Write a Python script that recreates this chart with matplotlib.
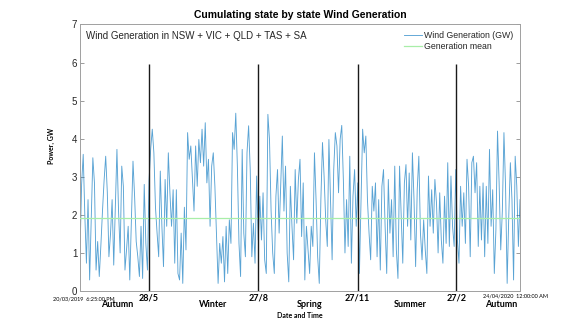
import matplotlib
matplotlib.use('Agg')
import matplotlib.pyplot as plt
import matplotlib.transforms as mtransforms
import numpy as np
import pandas as pd

# Wind generation (GW) left to right in six chunks
wind_autumn = [1.0, 2.8, 3.59, 2.0, 0.73, 2.4, 0.29, 1.9, 3.5, 2.84,
               0.55, 1.3, 0.38, 1.2, 2.1, 2.9, 3.54, 2.6, 0.9, 1.5,
               2.4, 0.68, 2.2, 3.72, 2.1, 1.0, 3.28, 2.75, 0.55, 1.1,
               1.7, 0.29, 1.9, 3.41, 2.49, 1.3, 0.9, 0.38, 1.7, 0.33,
               2.8, 1.25, 0.55, 2.9, 3.72, 4.25, 3.63, 2.2, 1.52]
wind_winter_a = [0.9, 3.15, 1.7, 0.64, 2.93, 1.7, 3.63, 2.58, 1.7, 2.66,
                 0.73, 2.66, 0.46, 0.29, 1.52, 0.2, 2.2, 1.08, 4.16, 3.46,
                 3.81, 2.93, 2.1, 3.81, 2.75, 3.98, 3.37, 4.25, 3.28, 4.42,
                 2.84, 3.46, 1.7, 3.28, 3.63, 2.75, 1.43, 0.2, 1.25, 0.73,
                 1.43, 0.24, 1.7, 0.46, 1.87, 1.25]
wind_winter_b = [4.16, 3.72, 4.67, 3.28, 1.25, 0.38, 3.72, 1.52, 0.9, 3.63,
                 4.34, 3.19, 0.9, 1.78, 0.73, 3.02, 1.34, 2.49, 1.34, 2.58,
                 0.82, 0.46, 4.64, 3.98, 2.1, 1.0, 0.46, 2.49, 3.19, 1.52,
                 2.84, 4.07, 2.1, 3.28, 1.0, 0.24, 2.75, 1.7, 0.82, 3.19,
                 1.78, 2.93, 3.46, 1.43, 2.84, 0.29, 1.7, 1.08]
wind_spring = [0.46, 1.7, 1.17, 3.63, 2.4, 0.9, 0.2, 2.4, 3.9, 3.02,
               1.87, 1.17, 3.98, 2.4, 0.82, 3.19, 4.16, 3.81, 2.58, 3.98,
               4.35, 2.93, 1.0, 2.4, 1.17, 3.54, 0.73, 2.49, 3.19, 1.7,
               2.84, 0.46, 2.31, 4.25, 3.63, 4.07, 2.4, 1.52, 0.82, 2.75,
               2.1, 2.84, 0.9, 2.4, 0.55, 2.75, 3.19]
wind_summer = [1.7, 0.46, 2.93, 1.52, 2.4, 0.9, 3.28, 1.08, 0.33, 3.28,
               1.96, 0.73, 2.84, 3.32, 1.7, 3.1, 1.34, 3.63, 2.4, 0.64,
               2.66, 3.54, 1.52, 0.82, 1.87, 1.08, 0.46, 3.02, 1.7, 2.66,
               1.52, 2.93, 2.31, 1.0, 2.58, 1.34, 0.73, 2.49, 1.25, 3.37,
               1.17, 3.02, 1.7, 1.17, 3.19]
wind_late = [1.34, 0.73, 2.75, 1.7, 2.58, 1.25, 3.46, 2.75, 0.9, 3.37,
             3.54, 2.58, 3.37, 1.17, 2.75, 1.34, 2.84, 0.9, 2.75, 1.25,
             3.72, 1.7, 2.66, 0.46, 1.61, 4.2, 2.84, 1.08, 2.1, 4.16,
             2.75, 0.2, 1.96, 3.37, 2.4, 0.29, 3.54, 2.75, 1.17, 2.4]

generation_mean = 1.93
start_time = '2019-03-20 18:25'
end_time = '2020-04-24 00:00'

# season marks as drawn on the chart, and the text written under them
mark_dates = pd.to_datetime(['2019-05-22 15:00', '2019-08-30 02:00',
                             '2019-11-28 06:00', '2020-02-26 01:00'])
mark_labels = ['28/5', '27/8', '27/11', '27/2']
season_names = ['Autumn', 'Winter', 'Spring', 'Summer', 'Autumn']
season_x = [117, 213, 310, 410, 501]

wind_gw = np.concatenate([wind_autumn, wind_winter_a, wind_winter_b,
                          wind_spring, wind_summer, wind_late])
times = pd.date_range(start_time, end_time, periods=len(wind_gw))

W, H = 580, 326
fig = plt.figure(figsize=(W / 100, H / 100), dpi=100)
ax = fig.add_axes([80 / W, 1 - 291 / H, 440 / W, 266.5 / H])

ax.plot(times, wind_gw, color='#0072BD', lw=0.65, alpha=0.65,
        label='Wind Generation (GW)')
ax.axhline(generation_mean, color='#a8eea8', lw=0.9, label='Generation mean', zorder=4)
ax.vlines(mark_dates, 0, 5.95, color='#1a1a1a', lw=1.0, zorder=5)

ax.set_xlim(times[0], times[-1])
ax.set_ylim(0, 7)
ax.set_xticks([])
ax.set_yticks(range(8))
ax.tick_params(axis='y', direction='in', length=3, width=0.6, labelsize=7,
               colors='#8c8c8c', labelcolor='#262626', right=True, pad=2)
for s in ax.spines.values():
    s.set_color('#a0a0a0')
    s.set_linewidth(0.7)
for lab in ax.get_yticklabels():
    lab.set_fontfamily('Liberation Sans')

ax.text(0.014, 0.955, 'Wind Generation in NSW + VIC + QLD + TAS + SA',
        transform=ax.transAxes, fontsize=7, family='Liberation Sans',
        va='center', ha='left', color='#262626')
leg = ax.legend(loc='upper right', frameon=False,
                prop={'family': 'Liberation Sans', 'size': 6.3},
                handlelength=2.0, handletextpad=0.25, labelspacing=0.15,
                borderaxespad=0.4)
for t in leg.get_texts():
    t.set_color('#262626')

fig.text(300 / W, 1 - 15 / H, 'Cumulating state by state Wind Generation',
         ha='center', va='center', fontsize=7.5, fontweight='bold',
         family='Liberation Sans')

trans = mtransforms.blended_transform_factory(ax.transData, fig.transFigure)
for d, lab in zip(mark_dates, mark_labels):
    ax.text(d, 1 - 298 / H, lab, transform=trans, ha='center', va='center',
            fontsize=6.5, fontweight='bold', family='Lato')
for x, name in zip(season_x, season_names):
    fig.text(x / W, 1 - 304.5 / H, name, ha='center', va='center',
             fontsize=6.5, fontweight='bold', family='Lato')

fig.text(300 / W, 1 - 315 / H, 'Date and Time', ha='center', va='center',
         fontsize=5, fontweight='bold', family='Lato')
fig.text(53 / W, 1 - 299 / H, '20/03/2019  6:25:00 PM', ha='left',
         va='center', fontsize=4.0, family='Lato')
fig.text(483 / W, 1 - 296 / H, '24/04/2020  12:00:00 AM', ha='left',
         va='center', fontsize=4.0, family='Lato')
fig.text(51 / W, 1 - 146 / H, 'Power, GW', rotation=90, ha='center',
         va='center', fontsize=5, fontweight='bold', family='Lato')

fig.savefig('out.png', dpi=100)
